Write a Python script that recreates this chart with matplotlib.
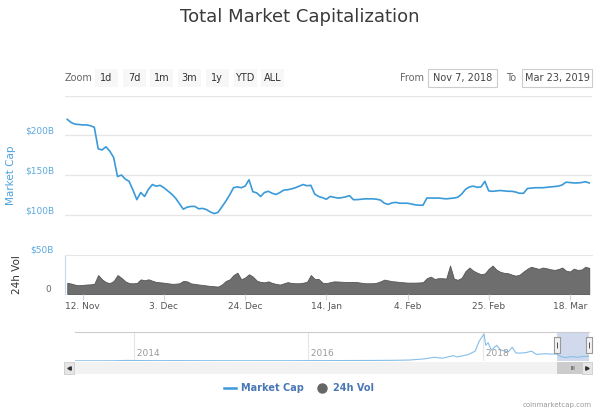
import numpy as np
import matplotlib
matplotlib.use("Agg")
import matplotlib.pyplot as plt
import matplotlib.transforms as mtransforms
from matplotlib.patches import Rectangle
from matplotlib.lines import Line2D

# daily total market cap and 24h volume, billions USD, Nov 8 2018 .. Mar 23 2019
dates = np.arange("2018-11-08", "2019-03-24", dtype="datetime64[D]")
market_cap = [
    220, 216, 214, 213.5, 213, 213, 212, 210, 183, 181.5, 185.5, 180, 172, 148, 150, 145,
    142, 131, 119, 128, 123, 132, 138, 136, 137, 134, 130, 126, 121, 114, 107, 109.5,
    110.5, 110.5, 107.5, 108, 106.5, 103.5, 101.5, 103, 110, 117, 125, 134, 135, 134,
    136, 144, 129, 127.5, 123, 128, 129.5, 127, 125.5, 128, 131, 131.5, 132.5, 134, 136,
    138, 136.5, 137, 126, 123, 121.5, 119.5, 123, 122, 121, 121.5, 122.5, 124, 119, 119,
    119.5, 120, 120, 120, 119.5, 118.5, 114.5, 113, 115, 115.5, 114.5, 114.5, 114.5,
    113.5, 112.5, 112, 112, 121, 121, 121, 121, 120.5, 120, 120.5, 121, 122, 126, 132,
    135, 136, 134.5, 135, 142, 130, 129.5, 130, 130.5, 130, 129.5, 129.5, 128.5, 127,
    127, 133, 133.5, 134, 134, 134, 134.5, 135, 135.5, 136, 137.5, 141, 140.5, 140, 140,
    140.5, 141.5, 140,
]
volume_24h = [
    14.2, 13.2, 11.8, 11.1, 11.5, 12, 12.2, 13, 24, 18.5, 15, 13.8, 16.5, 24, 20.5, 16,
    13.8, 13.5, 14, 18.5, 17.4, 18.6, 16.8, 15.2, 14.8, 14.3, 13.6, 12.9, 13, 13.6, 16.5,
    16, 13.4, 12.8, 12, 11.5, 10.8, 10.2, 9.8, 9.4, 12, 16.5, 18.5, 24, 27, 18.5, 21, 25,
    22, 17, 15.2, 14.8, 16, 14, 12.8, 11.9, 13.5, 15, 14, 13.6, 13.6, 14.3, 15.5, 24, 19,
    19, 14.3, 13.7, 15, 16, 15.8, 15.5, 15.3, 15.3, 15.3, 15, 14.3, 13.6, 13.6, 13.6,
    14.3, 16, 18.2, 17.2, 16.2, 15.8, 15.2, 14.8, 14.4, 14.4, 14.4, 14.6, 15, 20, 22, 19,
    20, 20, 19.5, 36, 19.3, 18, 20.5, 29, 33.5, 29.5, 27, 25, 26, 32, 36, 30.7, 28, 26.8,
    26.3, 24.5, 23.2, 24.5, 28.5, 32, 34.5, 33, 31.8, 33.5, 32.5, 31.3, 30.5, 31.5, 33.5,
    29.5, 28.5, 32, 30.5, 31, 34.5, 33,
]

# navigator: full history of total market cap (billions USD)
nav_dates = np.array([
    "2013-04-28", "2013-07-01", "2013-10-01", "2013-12-04", "2014-01-01", "2014-04-01",
    "2014-07-01", "2014-10-01", "2015-01-01", "2015-04-01", "2015-07-01", "2015-10-01",
    "2016-01-01", "2016-04-01", "2016-07-01", "2016-10-01", "2017-01-01", "2017-03-01",
    "2017-05-01", "2017-06-12", "2017-07-15", "2017-09-01", "2017-09-15", "2017-11-01",
    "2017-12-01", "2017-12-17", "2018-01-07", "2018-01-14", "2018-01-24", "2018-02-06",
    "2018-03-01", "2018-03-16", "2018-04-07", "2018-04-18", "2018-05-05", "2018-05-21",
    "2018-06-05", "2018-06-29", "2018-07-25", "2018-08-14", "2018-09-20", "2018-10-10",
    "2018-11-07", "2018-11-25", "2018-12-15", "2019-01-05", "2019-02-07", "2019-02-24",
    "2019-03-23"], dtype="datetime64[D]")
nav_values = [
    1.5, 1.2, 2, 13, 10, 6, 8, 5, 4, 3.5, 4, 4, 7, 8, 10, 12, 17, 25, 60, 110, 80, 160,
    120, 190, 300, 600, 830, 480, 560, 330, 480, 340, 300, 270, 420, 240, 240, 250, 300,
    200, 220, 210, 210, 130, 100, 130, 110, 135, 140,
]

cap_ticks = [50, 100, 150, 200]
cap_labels = ["$50B", "$100B", "$150B", "$200B"]
x_ticks = np.array(["2018-11-12", "2018-12-03", "2018-12-24", "2019-01-14",
                    "2019-02-04", "2019-02-25", "2019-03-18"], dtype="datetime64[D]")
x_labels = ["12. Nov", "3. Dec", "24. Dec", "14. Jan", "4. Feb", "25. Feb", "18. Mar"]
year_ticks = np.array(["2014-01-01", "2016-01-01", "2018-01-01"], dtype="datetime64[D]")
year_labels = ["2014", "2016", "2018"]
zoom_buttons = ["1d", "7d", "1m", "3m", "1y", "YTD", "ALL"]
sel_start = np.datetime64("2018-11-07T10:00")
sel_end = np.datetime64("2019-03-23T17:00")

BLUE = "#3a9ad9"
GRID = "#e6e6e6"
W, H = 600, 413

plt.rcParams["font.family"] = ["DejaVu Sans"]
fig = plt.figure(figsize=(6, 4.13), dpi=100)


def box(x0, y0, x1, y1):
    return [x0 / W, 1 - y1 / H, (x1 - x0) / W, (y1 - y0) / H]


def fig_rect(x0, y0, x1, y1, **kw):
    fig.add_artist(Rectangle((x0 / W, 1 - y1 / H), (x1 - x0) / W, (y1 - y0) / H,
                             transform=fig.transFigure, **kw))


lift = mtransforms.ScaledTranslation(0, 3 / 72, fig.dpi_scale_trans)

# ---- market cap pane ----
ax = fig.add_axes(box(65, 95.5, 592, 254.5))
ax.plot(dates, market_cap, color=BLUE, lw=1.2, zorder=3)
ax.set_xlim(sel_start, sel_end)
ax.set_ylim(50, 250)
ax.set_yticks([100, 150, 200, 250])
ax.grid(axis="y", color=GRID, lw=0.9)
ax.tick_params(left=False, bottom=False, labelleft=False, labelbottom=False)
for s in ax.spines.values():
    s.set_visible(False)
for v, lab in zip(cap_ticks, cap_labels):
    ax.text(-0.021, v, lab, transform=ax.get_yaxis_transform() + lift,
            ha="right", va="center", fontsize=6.5, color="#5aa9e0")
ax.set_ylabel("Market Cap", fontsize=7.5, color="#4aa3df")
ax.yaxis.set_label_coords(-0.093, 0.5)

# ---- volume pane ----
axv = fig.add_axes(box(65, 254.5, 592, 294))
axv.fill_between(dates, volume_24h, color="#6e6e6e", edgecolor="#555555", lw=0.6)
axv.set_xlim(sel_start, sel_end)
axv.set_ylim(0, 50)
for k in ["right", "bottom"]:
    axv.spines[k].set_visible(False)
axv.spines["top"].set_color(GRID)
axv.spines["left"].set_color("#ccd6eb")
axv.spines["left"].set_linewidth(0.8)
axv.set_yticks([])
axv.text(-0.027, 0, "0", transform=axv.get_yaxis_transform() + lift,
         ha="right", va="center", fontsize=6.5, color="#666666")
axv.set_ylabel("24h Vol", fontsize=7.5, color="#333333")
axv.yaxis.set_label_coords(-0.082, 0.5)
axv.set_xticks(x_ticks)
axv.set_xticklabels(x_labels)
axv.tick_params(axis="x", length=4.5, width=0.8, color="#ccd6eb", labelsize=6.5,
                labelcolor="#555555", pad=1.5)

# ---- navigator ----
axn = fig.add_axes(box(75, 332, 589, 361))
axn.plot(nav_dates, nav_values, color="#85bfe9", lw=0.8)
axn.set_xlim(nav_dates[0], np.datetime64("2019-03-23"))
axn.set_ylim(-5, 890)
axn.set_yticks([])
axn.set_xticks(year_ticks)
axn.tick_params(axis="x", length=0, labelbottom=False)
axn.grid(axis="x", color=GRID, lw=0.8)
for k in ["right", "bottom", "left"]:
    axn.spines[k].set_visible(False)
axn.spines["top"].set_color("#cccccc")
axn.spines["top"].set_linewidth(0.8)
for d, lab in zip(year_ticks, year_labels):
    axn.text(d, 0.1, " " + lab, transform=axn.get_xaxis_transform(),
             fontsize=6.5, color="#999999", ha="left", va="bottom")
axn.axvspan(sel_start, sel_end, color="#6685c2", alpha=0.3, lw=0)
handle = [(-0.4, -1), (0.4, -1), (0.4, 1), (-0.4, 1), (-0.4, -1)]
axn.plot([sel_start, sel_end], [0.55, 0.55], ls="none", marker=handle, ms=11,
         mfc="#f2f2f2", mec="#999999", mew=0.8, transform=axn.get_xaxis_transform(),
         clip_on=False, zorder=5)
axn.plot([sel_start, sel_end], [0.55, 0.55], ls="none", marker="|", ms=4,
         mec="#333333", mew=0.6, transform=axn.get_xaxis_transform(),
         clip_on=False, zorder=6)

# ---- scrollbar ----
axs = fig.add_axes(box(75, 362, 589, 374), sharex=axn)
axs.axis("off")
axs.add_patch(Rectangle((-0.0214, 0), 1.0272, 1, transform=axs.transAxes,
                        facecolor="#f2f2f2", edgecolor="none", clip_on=False))
axs.axvspan(sel_start, sel_end, facecolor="#cccccc", edgecolor="none")
for x0 in [-0.0214, 0.986]:
    axs.add_patch(Rectangle((x0, 0), 0.0195, 1, transform=axs.transAxes,
                            facecolor="#e6e6e6", edgecolor="#cccccc", lw=0.6,
                            clip_on=False, zorder=4))
axs.plot([-0.0117], [0.5], marker="<", ms=2.5, color="#333333",
         transform=axs.transAxes, clip_on=False, zorder=5)
axs.plot([0.996], [0.5], marker=">", ms=2.5, color="#333333",
         transform=axs.transAxes, clip_on=False, zorder=5)
sel_mid = sel_start + (sel_end - sel_start) / 2
axs.text(sel_mid, 0.5, "III", transform=axs.get_xaxis_transform(), fontsize=4,
         color="#333333", ha="center", va="center")

# ---- title, range selector, legend, credit ----
fig.text(0.5, 1 - 17 / H, "Total Market Capitalization", ha="center", va="center",
         fontsize=13, color="#3a3a3a")
fig.text(65 / W, 1 - 78 / H, "Zoom", ha="left", va="center", fontsize=7, color="#666666")
for i, lab in enumerate(zoom_buttons):
    x0 = 95 + 27.7 * i
    fig_rect(x0, 69, x0 + 23, 87, facecolor="#f7f7f7", edgecolor="none")
    fig.text((x0 + 11.5) / W, 1 - 78 / H, lab, ha="center", va="center",
             fontsize=7, color="#333333")
fig.text(400 / W, 1 - 78 / H, "From", ha="left", va="center", fontsize=7, color="#666666")
fig_rect(428, 69, 497, 87, facecolor="white", edgecolor="#cccccc", lw=0.8)
fig.text(462.5 / W, 1 - 78 / H, "Nov 7, 2018", ha="center", va="center",
         fontsize=7, color="#444444")
fig.text(506 / W, 1 - 78 / H, "To", ha="left", va="center", fontsize=7, color="#666666")
fig_rect(522, 69, 592, 87, facecolor="white", edgecolor="#cccccc", lw=0.8)
fig.text(557 / W, 1 - 78 / H, "Mar 23, 2019", ha="center", va="center",
         fontsize=7, color="#444444")

handles = [Line2D([], [], color=BLUE, lw=1.8),
           Line2D([], [], color="#666666", marker="o", ls="none", ms=6.5)]
fig.legend(handles, ["Market Cap", "24h Vol"], loc="center",
           bbox_to_anchor=(299 / W, 1 - 388 / H), ncol=2, frameon=False,
           prop={"size": 7, "weight": "bold"}, labelcolor="#4a78b5",
           handlelength=1.3, handletextpad=0.5, columnspacing=1.2)
fig.text(592 / W, 1 - 405 / H, "coinmarketcap.com", ha="right", va="center",
         fontsize=5, color="#999999")

fig.savefig("out.png", dpi=100)
